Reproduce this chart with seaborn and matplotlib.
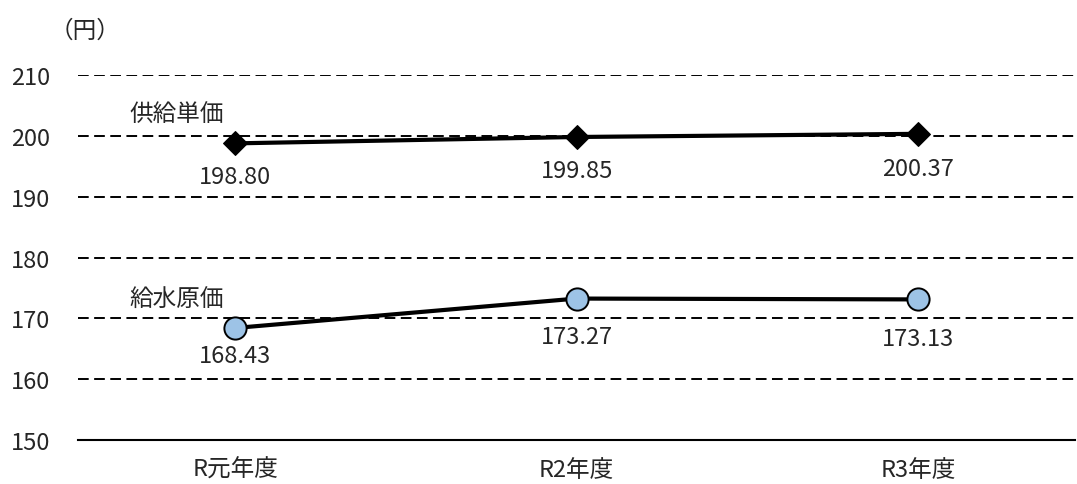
import pandas as pd
import matplotlib.pyplot as plt
import seaborn as sns

# data
years = ['R元年度', 'R2年度', 'R3年度']
supply_price = [198.80, 199.85, 200.37]   # 供給単価
water_cost = [168.43, 173.27, 173.13]     # 給水原価
yticks = [150, 160, 170, 180, 190, 200, 210]

df = pd.DataFrame({'年度': years, 'pos': range(len(years)),
                   '供給単価': supply_price, '給水原価': water_cost})

sns.set_style("white")
plt.rcParams['font.family'] = ['Noto Sans CJK JP', 'DejaVu Sans']
FS = 17

fig = plt.figure(figsize=(10.77, 4.85), dpi=100)
ax = fig.add_axes([0.0724, 0.0907, 0.926, 0.752])

# dashed grid
for y in yticks[1:]:
    ax.axhline(y, color='black', lw=1.4, ls=(0, (5.5, 2.8)), zorder=0)

sns.lineplot(data=df, x='pos', y='供給単価', ax=ax, color='black', lw=3,
             marker='D', markersize=12, markeredgecolor='black', zorder=3)
sns.lineplot(data=df, x='pos', y='給水原価', ax=ax, color='black', lw=3,
             marker='o', markersize=16, markerfacecolor='#9DC3E6',
             markeredgecolor='black', markeredgewidth=1.4, zorder=3)

# data labels below the points
supply_off = [-24, -24, -25]
water_off = [-20, -27, -28]
for i in range(len(years)):
    ax.annotate(f'{supply_price[i]:.2f}', (i, supply_price[i]), xytext=(0, supply_off[i]),
                textcoords='offset points', ha='center', va='center', fontsize=FS)
    ax.annotate(f'{water_cost[i]:.2f}', (i, water_cost[i]), xytext=(0, water_off[i]),
                textcoords='offset points', ha='center', va='center', fontsize=FS)

ax.text(-0.17, 203.6, '供給単価', ha='center', va='center', fontsize=FS)
ax.text(-0.17, 173.1, '給水原価', ha='center', va='center', fontsize=FS)
fig.text(0.079, 0.935, '（円）', ha='center', va='center', fontsize=FS)

ax.set_xlim(-0.46, 2.46)
ax.set_ylim(150, 210)
ax.set_xticks(range(len(years)))
ax.set_xticklabels(years, fontsize=FS)
ax.set_yticks(yticks)
ax.set_yticklabels([str(v) for v in yticks], fontsize=FS)
ax.set_xlabel('')
ax.set_ylabel('')
ax.tick_params(axis='x', length=0, pad=13)
ax.tick_params(axis='y', length=0, pad=20)
for s in ['top', 'right', 'left']:
    ax.spines[s].set_visible(False)
ax.spines['bottom'].set_color('black')
ax.spines['bottom'].set_linewidth(1.5)

fig.savefig('out.png', dpi=100)
